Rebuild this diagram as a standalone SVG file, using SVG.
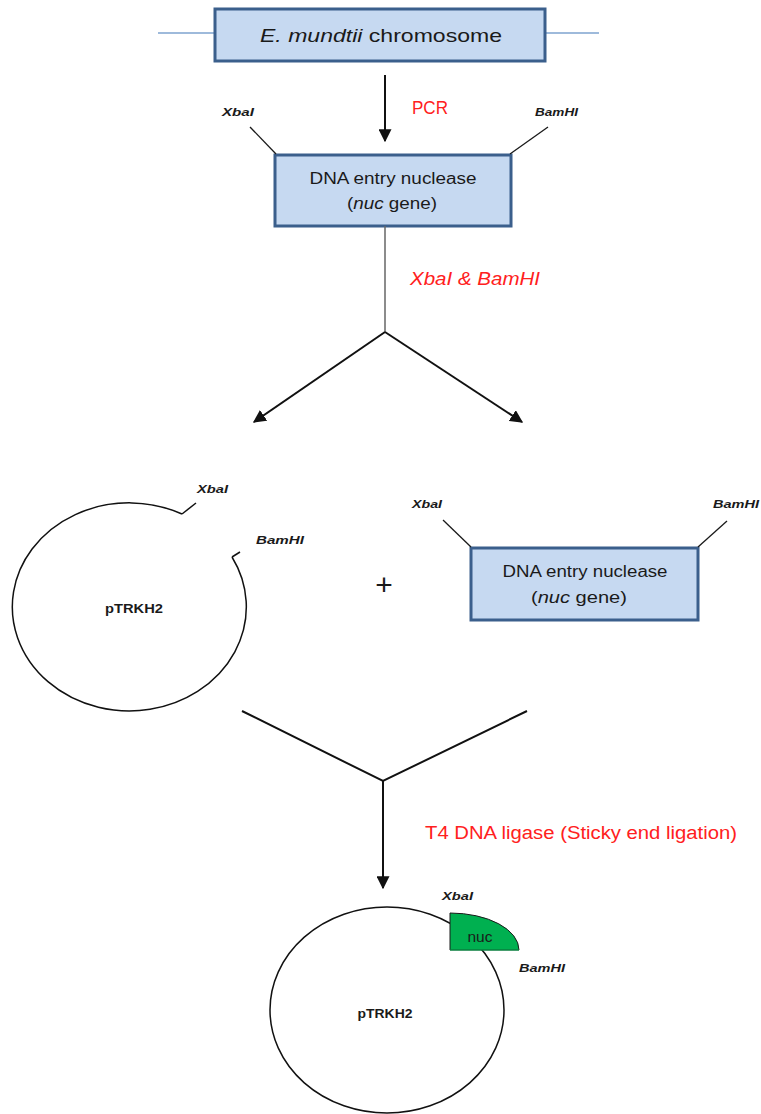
<svg xmlns="http://www.w3.org/2000/svg" width="761" height="1114" viewBox="0 0 761 1114">
<style>
.box{fill:#c6d9f1;stroke:#3b5f8c;stroke-width:3}
.t{font-family:"Liberation Sans",Arial,sans-serif;fill:#1a1a1a}
.site{font-family:"Liberation Sans",Arial,sans-serif;font-size:11.5px;font-weight:bold;font-style:italic;fill:#1a1a1a}
.red{font-family:"Liberation Sans",Arial,sans-serif;fill:#ff2020;font-size:18px}
.ln{stroke:#1a1a1a;stroke-width:1.3;fill:none}
.arr{stroke:#111;stroke-width:2;fill:none}
.plas{stroke:#111;stroke-width:1.5;fill:none}
</style>
<defs>
<marker id="ah" viewBox="0 0 10 10" refX="9" refY="5" markerWidth="6.5" markerHeight="6.5" markerUnits="strokeWidth" orient="auto">
<path d="M0,0 L10,5 L0,10 Z" fill="#111"/>
</marker>
</defs>
<rect width="761" height="1114" fill="#fff"/>

<g id="chromosome">
<line x1="158" y1="33" x2="215" y2="33" stroke="#7ea3cf" stroke-width="1.5"/>
<line x1="545" y1="33" x2="599" y2="33" stroke="#7ea3cf" stroke-width="1.5"/>
<rect class="box" x="215" y="9" width="330" height="52"/>
<text class="t" x="381" y="42" font-size="19" text-anchor="middle" textLength="242" lengthAdjust="spacingAndGlyphs"><tspan font-style="italic">E. mundtii</tspan> chromosome</text>
</g>

<g id="nuc-gene-1">
<rect class="box" x="275" y="155" width="236" height="71"/>
<text class="t" x="393" y="184" font-size="16" text-anchor="middle" textLength="167" lengthAdjust="spacingAndGlyphs">DNA entry nuclease</text>
<text class="t" x="392" y="209" font-size="16" text-anchor="middle" textLength="90" lengthAdjust="spacingAndGlyphs">(<tspan font-style="italic">nuc</tspan> gene)</text>
<line class="ln" x1="250" y1="127" x2="276" y2="154"/>
<line class="ln" x1="548" y1="127" x2="510" y2="154"/>
<text class="site" x="222" y="116" textLength="32" lengthAdjust="spacingAndGlyphs">XbaI</text>
<text class="site" x="535" y="116" textLength="43" lengthAdjust="spacingAndGlyphs">BamHI</text>
</g>

<g id="plasmid-open">
<path class="plas" d="M232,557 A117,104 0 1 1 182,514"/>
<line class="plas" x1="182" y1="514" x2="196" y2="503"/>
<line class="plas" x1="232" y1="557" x2="240" y2="552"/>
<text class="site" x="197" y="493" textLength="31" lengthAdjust="spacingAndGlyphs">XbaI</text>
<text class="site" x="256" y="544" textLength="48" lengthAdjust="spacingAndGlyphs">BamHI</text>
<text class="t" x="134" y="613" font-size="13" font-weight="bold" text-anchor="middle" textLength="58" lengthAdjust="spacingAndGlyphs">pTRKH2</text>
</g>

<g id="plus">
<text class="t" x="384" y="595" font-size="30" text-anchor="middle">+</text>
</g>

<g id="nuc-gene-2">
<rect class="box" x="471" y="548" width="227" height="72"/>
<text class="t" x="585" y="577" font-size="16" text-anchor="middle" textLength="165" lengthAdjust="spacingAndGlyphs">DNA entry nuclease</text>
<text class="t" x="579" y="603" font-size="16" text-anchor="middle" textLength="96" lengthAdjust="spacingAndGlyphs">(<tspan font-style="italic">nuc</tspan> gene)</text>
<line class="ln" x1="443" y1="520" x2="471" y2="547"/>
<line class="ln" x1="698" y1="547" x2="727" y2="521"/>
<text class="site" x="412" y="508" textLength="30" lengthAdjust="spacingAndGlyphs">XbaI</text>
<text class="site" x="713" y="508" textLength="46" lengthAdjust="spacingAndGlyphs">BamHI</text>
</g>

<g id="plasmid-recombinant">
<ellipse class="plas" cx="387" cy="1010" rx="117" ry="103"/>
<path d="M450,950 L450,913 A69,37 0 0 1 519,950 Z" fill="#00b050" stroke="#1a1a1a" stroke-width="1"/>
<path d="M450,950 L519,950" stroke="#00b050" stroke-width="1.2"/>
<text class="t" x="480" y="942" font-size="14" text-anchor="middle" textLength="25" lengthAdjust="spacingAndGlyphs">nuc</text>
<text class="site" x="442" y="900" textLength="31" lengthAdjust="spacingAndGlyphs">XbaI</text>
<text class="site" x="519" y="972" textLength="46" lengthAdjust="spacingAndGlyphs">BamHI</text>
<text class="t" x="385" y="1018" font-size="13" font-weight="bold" text-anchor="middle" textLength="55" lengthAdjust="spacingAndGlyphs">pTRKH2</text>
</g>

<g id="connectors">
<line class="arr" x1="385" y1="75" x2="385" y2="141" marker-end="url(#ah)"/>
<text class="red" x="412" y="114" textLength="36" lengthAdjust="spacingAndGlyphs">PCR</text>
<line x1="385" y1="226" x2="385" y2="332" stroke="#666" stroke-width="1.5"/>
<text class="red" x="410" y="285" font-style="italic" textLength="130" lengthAdjust="spacingAndGlyphs">XbaI &amp; BamHI</text>
<line class="arr" x1="385" y1="332" x2="254" y2="422" marker-end="url(#ah)"/>
<line class="arr" x1="385" y1="332" x2="522" y2="422" marker-end="url(#ah)"/>
<polyline class="arr" points="242,711 383,781 527,711"/>
<line class="arr" x1="383" y1="781" x2="383" y2="888" marker-end="url(#ah)"/>
<text class="red" x="425" y="839" textLength="312" lengthAdjust="spacingAndGlyphs">T4 DNA ligase (Sticky end ligation)</text>
</g>
</svg>
